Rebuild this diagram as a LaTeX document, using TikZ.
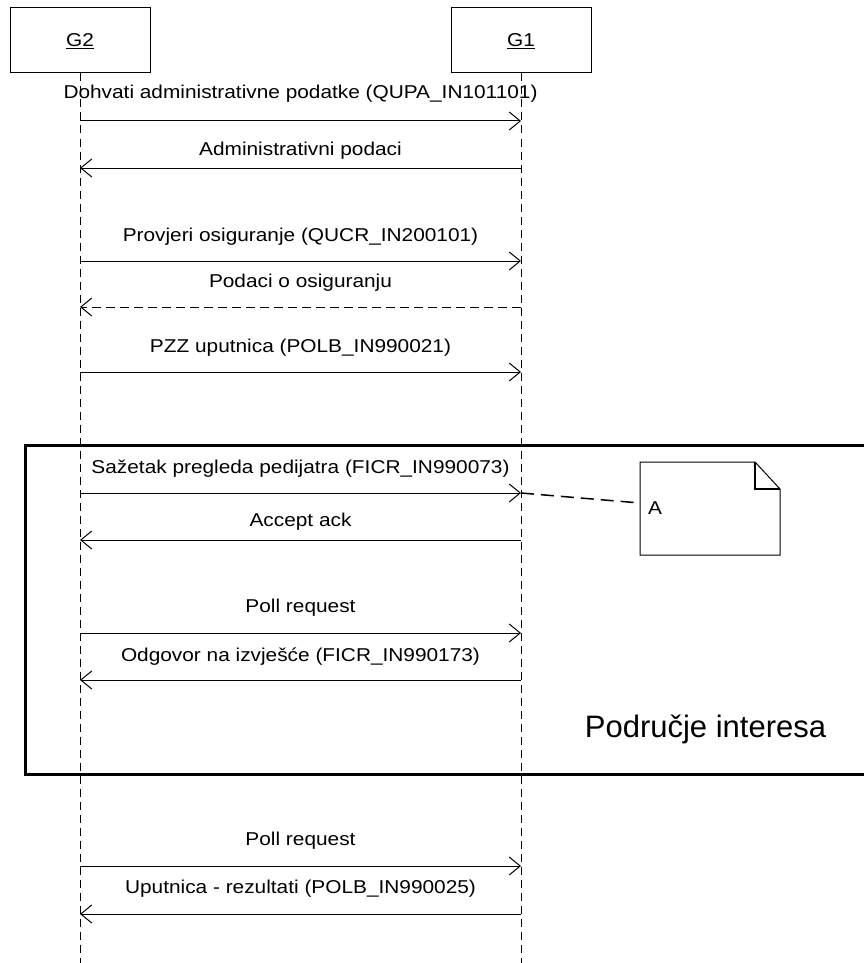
\documentclass[tikz,border=0pt]{standalone}
\usepackage{fontspec}
\setmainfont{Liberation Sans}[FakeStretch=1.12]
\newfontfamily\bigfont{Liberation Sans}
\usetikzlibrary{arrows.meta}
\tikzset{
  actor/.style={draw, line width=1pt, minimum width=140pt, minimum height=65pt, inner sep=0pt},
  lbl/.style={anchor=base, inner sep=0pt, font=\fontsize{18.6}{20}\selectfont},
  lifeline/.style={line width=1pt, dash pattern=on 8pt off 5pt},
  msg/.style={line width=1pt, -{Straight Barb[length=11pt,width=18pt,line width=1pt]}},
  reply/.style={msg, dash pattern=on 9pt off 5pt},
  frame/.style={line width=3pt},
  noteline/.style={line width=1.5pt, dash pattern=on 13pt off 7pt},
}
\begin{document}
\begin{tikzpicture}[x=1pt,y=-1pt]
\useasboundingbox (0,0) rectangle (864,963);
\clip (0,0) rectangle (864,963);

% actors
\node[actor] (g2) at (80,40.5) {};
\node[actor] (g1) at (521,40.5) {};
\node[lbl] (g2t) at (80,47) {\underline{G2}};
\node[lbl] (g1t) at (521,47) {\underline{G1}};

% lifelines
\coordinate (g2end) at (80,963);
\coordinate (g1end) at (521,963);
\draw[lifeline] (g2.south) -- (g2end);
\draw[lifeline] (g1.south) -- (g1end);

% frame
\coordinate (fa) at (25,445);
\coordinate (fb) at (880,774);
\draw[frame] (fa) rectangle (fb);
\node[anchor=base, inner sep=0pt, font=\bigfont\fontsize{31}{34}\selectfont] (area) at (705.5,737) {Područje interesa};

% messages
\foreach \i/\y in {1/121,2/168,3/261,4/307,5/372,6/493,7/540,8/633,9/680,10/866,11/914}{
  \coordinate (a\i) at (80,\y);
  \coordinate (b\i) at (521,\y);
}
\node[lbl] (l1) at (300.5,99) {Dohvati administrativne podatke (QUPA\_IN101101)};
\draw[msg] (a1) -- (b1);
\node[lbl] (l2) at (300.5,155) {Administrativni podaci};
\draw[msg] (b2) -- (a2);
\node[lbl] (l3) at (300.5,241) {Provjeri osiguranje (QUCR\_IN200101)};
\draw[msg] (a3) -- (b3);
\node[lbl] (l4) at (300.5,287) {Podaci o osiguranju};
\draw[reply] (b4) -- (a4);
\node[lbl] (l5) at (300.5,352) {PZZ uputnica (POLB\_IN990021)};
\draw[msg] (a5) -- (b5);
\node[lbl] (l6) at (300.5,473) {Sažetak pregleda pedijatra (FICR\_IN990073)};
\draw[msg] (a6) -- (b6);
\node[lbl] (l7) at (300.5,526) {Accept ack};
\draw[msg] (b7) -- (a7);
\node[lbl] (l8) at (300.5,612) {Poll request};
\draw[msg] (a8) -- (b8);
\node[lbl] (l9) at (300.5,661) {Odgovor na izvješće (FICR\_IN990173)};
\draw[msg] (b9) -- (a9);
\node[lbl] (l10) at (300.5,845) {Poll request};
\draw[msg] (a10) -- (b10);
\node[lbl] (l11) at (300.5,893) {Uputnica - rezultati (POLB\_IN990025)};
\draw[msg] (b11) -- (a11);

% note
\coordinate (n1) at (640,462);
\coordinate (n2) at (755,462);
\coordinate (n3) at (780,489);
\coordinate (n4) at (780,555);
\coordinate (n5) at (640,555);
\coordinate (n6) at (755,489);
\draw[line width=1pt] (n1) -- (n2) -- (n3) -- (n4) -- (n5) -- cycle;
\draw[line width=1.6pt] (n2) -- (n6) -- (n3);
\node[lbl, anchor=base west] (noteA) at (648,514) {A};
\coordinate (nin) at (640,503);
\draw[noteline] (b6) -- (nin);
\end{tikzpicture}
\end{document}
